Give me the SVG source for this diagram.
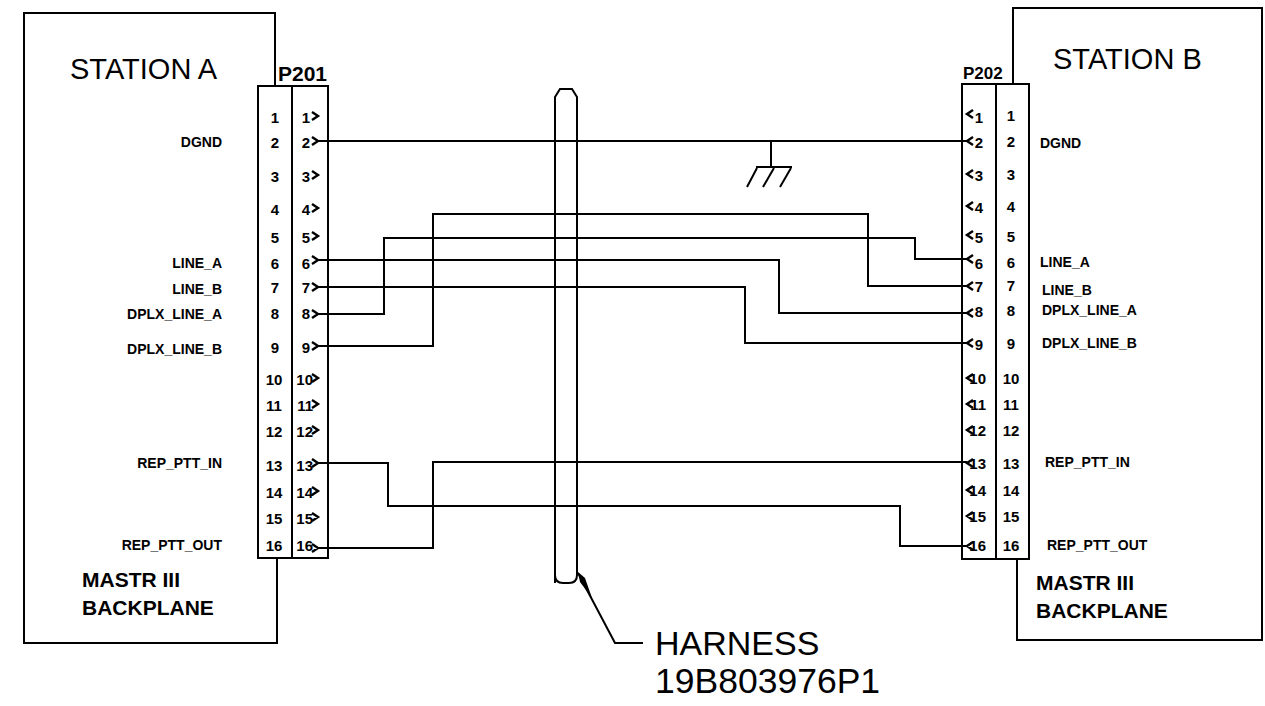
<svg xmlns="http://www.w3.org/2000/svg" width="1265" height="706" viewBox="0 0 1265 706">
<style>
.ln{stroke:#000;stroke-width:2;fill:none}
.w{stroke:#000;stroke-width:2;fill:none}
.ch{stroke:#000;stroke-width:2.4;fill:none;stroke-linejoin:miter}
text{font-family:"Liberation Sans",Arial,sans-serif;fill:#000}
.pin{font-size:15px;font-weight:bold}
.lbl{font-size:14px;font-weight:bold}
.ttl{font-size:29px}
.bp{font-size:21px;font-weight:bold}
.pn{font-weight:bold}
.hn{font-size:34px}
.hn2{font-size:35.5px}
</style>
<rect width="1265" height="706" fill="#fff"/>
<g id="station-a">
<path class="ln" d="M275,86 V13 H24 V643 H277 V558"/>
<text class="ttl" x="70" y="79">STATION A</text>
<text class="bp" x="82" y="587">MASTR III</text>
<text class="bp" x="82" y="615">BACKPLANE</text>
<g class="lbl" text-anchor="end">
<text x="222" y="147">DGND</text>
<text x="222" y="268">LINE_A</text>
<text x="222" y="294">LINE_B</text>
<text x="222" y="319">DPLX_LINE_A</text>
<text x="222" y="354">DPLX_LINE_B</text>
<text x="222" y="468">REP_PTT_IN</text>
<text x="222" y="550">REP_PTT_OUT</text>
</g>
</g>
<g id="p201">
<rect class="ln" x="258" y="86" width="70" height="472"/>
<line class="ln" x1="292" y1="86" x2="292" y2="558"/>
<text class="pn" x="278" y="81" font-size="21">P201</text>
<g class="pin" text-anchor="middle">
<text x="275" y="123">1</text><text x="275" y="148">2</text><text x="275" y="182">3</text><text x="275" y="215">4</text>
<text x="275" y="243">5</text><text x="275" y="269">6</text><text x="275" y="293">7</text><text x="275" y="319">8</text>
<text x="275" y="353">9</text><text x="274" y="385">10</text><text x="274" y="411">11</text><text x="274" y="437">12</text>
<text x="274" y="471">13</text><text x="274" y="498">14</text><text x="274" y="524">15</text><text x="274" y="551">16</text>
</g>
<g class="pin" text-anchor="end">
<text x="310" y="123">1</text><text x="310" y="148">2</text><text x="310" y="182">3</text><text x="310" y="215">4</text>
<text x="310" y="243">5</text><text x="310" y="269">6</text><text x="310" y="293">7</text><text x="310" y="319">8</text>
<text x="310" y="353">9</text><text x="313" y="385">10</text><text x="313" y="411">11</text><text x="313" y="437">12</text>
<text x="313" y="471">13</text><text x="313" y="498">14</text><text x="313" y="524">15</text><text x="313" y="551">16</text>
</g>
<path class="ch" d="M312,112 L318,116 L312,120 M312,137 L318,141 L312,145 M312,171 L318,175 L312,179 M312,204 L318,208 L312,212 M312,232 L318,236 L312,240 M312,256 L318,260 L312,264 M312,283 L318,287 L312,291 M312,310 L318,314 L312,318 M312,342 L318,346 L312,350 M312,374 L318,378 L312,382 M312,400 L318,404 L312,408 M312,426 L318,430 L312,434 M312,459 L318,463 L312,467 M312,487 L318,491 L312,495 M312,513 L318,517 L312,521 M312,544 L318,548 L312,552"/>
</g>
<g id="station-b">
<path class="ln" d="M1013,84 V8 H1262 V640 H1017 V559"/>
<text class="ttl" x="1053" y="69">STATION B</text>
<text class="bp" x="1036" y="590">MASTR III</text>
<text class="bp" x="1036" y="618">BACKPLANE</text>
<g class="lbl">
<text x="1040" y="148">DGND</text>
<text x="1040" y="267">LINE_A</text>
<text x="1042" y="295">LINE_B</text>
<text x="1042" y="315">DPLX_LINE_A</text>
<text x="1042" y="348">DPLX_LINE_B</text>
<text x="1045" y="467">REP_PTT_IN</text>
<text x="1047" y="550">REP_PTT_OUT</text>
</g>
</g>
<g id="p202">
<rect class="ln" x="962" y="84" width="67" height="475"/>
<line class="ln" x1="996" y1="84" x2="996" y2="559"/>
<text class="pn" x="963" y="79" font-size="17">P202</text>
<g class="pin" text-anchor="middle">
<text x="1011" y="121">1</text><text x="1011" y="147">2</text><text x="1011" y="180">3</text><text x="1011" y="212">4</text>
<text x="1011" y="242">5</text><text x="1011" y="268">6</text><text x="1011" y="291">7</text><text x="1011" y="316">8</text>
<text x="1011" y="349">9</text><text x="1011" y="384">10</text><text x="1011" y="410">11</text><text x="1011" y="436">12</text>
<text x="1011" y="469">13</text><text x="1011" y="496">14</text><text x="1011" y="522">15</text><text x="1011" y="551">16</text>
</g>
<g class="pin" text-anchor="end">
<text x="983" y="123">1</text><text x="983" y="148">2</text><text x="983" y="181">3</text><text x="983" y="213">4</text>
<text x="983" y="243">5</text><text x="983" y="269">6</text><text x="983" y="292">7</text><text x="983" y="317">8</text>
<text x="983" y="350">9</text><text x="986" y="384">10</text><text x="986" y="410">11</text><text x="986" y="436">12</text>
<text x="986" y="469">13</text><text x="986" y="496">14</text><text x="986" y="522">15</text><text x="986" y="551">16</text>
</g>
<path class="ch" d="M973,110 L967,114 L973,118 M973,137 L967,141 L973,145 M973,170 L967,174 L973,178 M973,202 L967,206 L973,210 M973,231 L967,235 L973,239 M973,255 L967,259 L973,263 M973,282 L967,286 L973,290 M973,309 L967,313 L973,317 M973,339 L967,343 L973,347 M973,374 L967,378 L973,382 M973,400 L967,404 L973,408 M973,426 L967,430 L973,434 M973,459 L967,463 L973,467 M973,486 L967,490 L973,494 M973,512 L967,516 L973,520 M973,542 L967,546 L973,550"/>
</g>
<g id="connectors">
<path class="w" d="M317,141 H967"/>
<path class="w" d="M317,260 H779 V313 H967"/>
<path class="w" d="M317,287 H745 V343 H967"/>
<path class="w" d="M317,314 H384 V238 H915 V259 H967"/>
<path class="w" d="M317,346 H433 V214 H868 V286 H967"/>
<path class="w" d="M317,463 H388 V506 H900 V546 H967"/>
<path class="w" d="M317,548 H433 V462 H967"/>
</g>
<g id="ground">
<path class="ln" d="M771,141 V167 M756,167 H792 M757,168 L747,187 M774,168 L763,187 M791,168 L780,187"/>
</g>
<g id="harness">
<path class="ln" d="M555,583 V97 L560,89 H572 L577,97 V575 Q577,583 569,583 H563 Q555,583 555,575 Z"/>
<path class="ln" d="M578,573 L615,643 H643"/>
<polygon points="578,572 585,578 592,598 580,582" fill="#000"/>
<text class="hn" x="655" y="655">HARNESS</text>
<text class="hn2" x="655" y="693">19B803976P1</text>
</g>
</svg>
